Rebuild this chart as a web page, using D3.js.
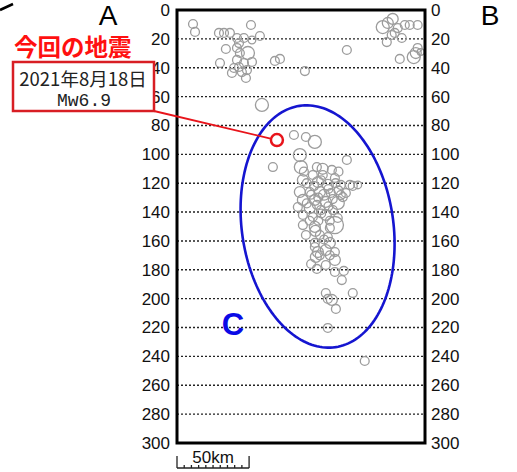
<!DOCTYPE html>
<html lang="ja">

<head>
    <meta charset="UTF-8">
    <title>Depth section</title>
    <script src="https://cdn.jsdelivr.net/npm/d3@7"></script>

    <style type="text/css">
        body { margin: 0; background: #fff; }

        .quake { fill: none; stroke: #9c9c9c; stroke-width: 1.3; }

        .grid { stroke: #222; stroke-width: 1.4; stroke-dasharray: 2,2; }

        .depthAxis text { font-family: "Liberation Sans", Arial, sans-serif; font-size: 17px; fill: #111; }
    </style>
</head>

<body>

    <svg id="section"></svg>

    <script>

        // Sizes of the SVG
        var width = 517;
        var height = 472;

        // Depth ticks (km)
        var depthTicks = [0, 20, 40, 60, 80, 100, 120, 140, 160, 180, 200, 220, 240, 260, 280, 300];

        // Hypocentres: [distance along section km, depth km, magnitude]
        var quakes = [
            [11.1, 9.7, 2.5], [12.5, 15.2, 2.5], [29.1, 15.9, 2.5], [32.6, 15.9, 2.5], [36.7, 15.9, 2.5],
            [51.3, 10.4, 2.5], [57.5, 18.0, 2.5], [46.4, 19.4, 2.5], [41.6, 19.4, 2.5], [52.0, 20.8, 2.2],
            [43.0, 22.9, 2.5], [33.9, 27.0, 2.5], [41.6, 26.3, 2.5], [49.2, 29.8, 3.5], [43.6, 29.8, 2.5],
            [29.8, 36.7, 2.5], [41.6, 34.6, 2.5], [46.4, 36.7, 2.5], [52.0, 36.0, 2.5], [39.5, 40.2, 2.5],
            [43.0, 39.5, 2.5], [48.5, 41.6, 2.5], [38.1, 43.6, 2.5], [45.0, 43.0, 2.5], [47.8, 47.1, 2.5],
            [67.9, 35.3, 2.5], [71.4, 33.9, 2.5], [58.9, 65.8, 3.5], [88.7, 42.3, 2.5], [117.8, 27.7, 2.5],
            [142.7, 11.8, 3.5], [149.6, 6.2, 3.0], [146.2, 9.0, 3.0], [153.1, 12.5, 2.5], [158.0, 10.4, 2.5],
            [151.0, 15.9, 2.5], [155.9, 19.4, 2.5], [145.5, 22.2, 2.5], [148.9, 17.3, 2.5], [166.9, 10.4, 2.5],
            [154.5, 33.9, 2.5], [165.6, 29.8, 3.0], [166.9, 26.3, 2.5], [169.0, 29.1, 2.0], [161.4, 10.4, 2.5],
            [164.2, 32.6, 3.5],
            [81.1, 86.6, 2.5], [89.4, 88.0, 2.5], [95.6, 91.4, 3.5], [85.2, 100.5, 3.5], [66.5, 108.8, 2.5],
            [117.8, 103.9, 2.5], [85.9, 108.8, 3.5], [97.0, 108.8, 2.5], [107.4, 110.8, 2.5],
            [94.2, 114.3, 2.5], [101.1, 114.3, 2.5], [109.5, 116.4, 2.5], [87.3, 117.8, 3.0], [97.7, 119.2, 3.0],
            [104.6, 121.2, 3.0], [113.6, 121.2, 2.5], [119.9, 121.2, 2.5], [125.4, 121.2, 2.2], [85.2, 126.1, 3.0],
            [92.1, 126.1, 2.5], [99.1, 126.1, 3.0], [106.7, 126.8, 2.5], [113.6, 128.2, 2.5], [117.1, 126.8, 2.5],
            [87.3, 131.6, 3.0], [95.6, 131.6, 3.0], [103.2, 133.0, 3.0], [111.5, 133.7, 3.5], [83.8, 136.5, 2.5],
            [92.1, 137.2, 3.0], [99.8, 138.6, 2.5], [108.1, 138.6, 2.5], [87.3, 142.0, 2.5], [94.2, 143.4, 2.5],
            [103.2, 142.0, 3.0], [111.5, 144.1, 2.5], [109.5, 149.0, 4.5], [87.3, 149.0, 2.5], [95.6, 150.3, 3.0],
            [106.0, 151.0, 2.5], [89.4, 155.9, 2.5], [99.1, 155.9, 2.5], [104.6, 157.3, 2.5], [95.6, 164.2, 2.5],
            [103.2, 166.3, 3.0], [96.3, 171.1, 3.0], [109.5, 173.2, 3.0], [103.2, 176.7, 2.5], [121.9, 121.9, 2.5],
            [115.0, 129.6, 2.5], [95.6, 161.4, 2.5], [106.0, 161.4, 3.0], [97.7, 167.7, 3.0],
            [109.5, 167.7, 2.5], [97.0, 179.4, 2.5], [115.7, 180.8, 2.5], [109.5, 181.5, 2.5], [114.3, 187.1, 2.5],
            [103.2, 196.1, 2.5], [121.9, 196.1, 2.5], [107.4, 200.9, 3.0], [104.6, 200.2, 2.5], [110.2, 207.1, 2.5],
            [104.6, 220.3, 2.5], [130.2, 243.2, 2.5],
            [90.0, 120.0, 2.5], [95.0, 122.0, 2.5], [100.0, 118.0, 2.5], [105.0, 124.0, 2.5], [110.0, 120.0, 2.5],
            [93.0, 128.0, 2.5], [98.0, 130.0, 2.5], [102.0, 128.0, 3.0], [108.0, 131.0, 2.5], [112.0, 125.0, 2.5],
            [90.0, 134.0, 2.5], [97.0, 135.0, 2.5], [105.0, 136.0, 2.5], [100.0, 141.0, 2.5], [92.0, 146.0, 2.5],
            [98.0, 146.0, 2.5], [106.0, 146.0, 2.5], [88.0, 112.0, 2.5], [101.0, 110.0, 3.0], [112.0, 112.0, 2.5],
            [96.0, 153.0, 3.0], [102.0, 159.0, 2.5], [99.0, 170.0, 2.5], [106.0, 170.0, 2.5], [93.0, 176.0, 2.5]
        ];

        // 2021-08-18 Mw6.9 event
        var mainShock = [69.3, 90.1];

        // Source region ellipse: centre, semi axes (km), tilt (deg)
        var ellipseCentre = [97.5, 150];
        var ellipseAxes = [52.5, 84.5];
        var ellipseTilt = -8.5;

        var svg = d3.select("#section")
            .attr("width", width)
            .attr("height", height);

        var x = d3.scaleLinear().domain([0, 172]).range([177, 425]);
        var y = d3.scaleLinear().domain([0, 300]).range([10, 443]);
        var r = d3.scaleLinear().domain([2, 5]).range([3.4, 9.6]);

        // dotted depth lines
        svg.selectAll(".grid")
            .data(depthTicks.slice(1, -1))
            .enter()
            .append("line")
            .attr("class", "grid")
            .attr("x1", x(0))
            .attr("x2", x(172))
            .attr("y1", function (d) { return y(d); })
            .attr("y2", function (d) { return y(d); });

        // depth labels on both sides
        svg.append("g")
            .attr("class", "depthAxis")
            .attr("transform", "translate(" + (x(0) - 1) + ",0)")
            .call(d3.axisLeft(y).tickValues(depthTicks).tickSize(0).tickPadding(6))
            .call(function (g) { g.select(".domain").remove(); });

        svg.append("g")
            .attr("class", "depthAxis")
            .attr("transform", "translate(" + (x(172) + 1) + ",0)")
            .call(d3.axisRight(y).tickValues(depthTicks).tickSize(0).tickPadding(5))
            .call(function (g) { g.select(".domain").remove(); });

        // hypocentres
        svg.selectAll(".quake")
            .data(quakes)
            .enter()
            .append("circle")
            .attr("class", "quake")
            .attr("cx", function (d) { return x(d[0]); })
            .attr("cy", function (d) { return y(d[1]); })
            .attr("r", function (d) { return r(d[2]); });

        // ellipse
        var tilt = ellipseTilt * Math.PI / 180;
        var ellPts = d3.range(0, 2 * Math.PI + 0.01, Math.PI / 90).map(function (t) {
            var ex = ellipseAxes[0] * Math.cos(t);
            var ey = ellipseAxes[1] * Math.sin(t);
            return [
                ellipseCentre[0] + ex * Math.cos(tilt) - ey * Math.sin(tilt),
                ellipseCentre[1] + ex * Math.sin(tilt) + ey * Math.cos(tilt)
            ];
        });
        svg.append("path")
            .attr("d", d3.line()
                .x(function (d) { return x(d[0]); })
                .y(function (d) { return y(d[1]); })(ellPts))
            .attr("fill", "none")
            .attr("stroke", "#1515d0")
            .attr("stroke-width", 2.6);

        // frame
        svg.append("rect")
            .attr("x", x(0))
            .attr("y", y(0))
            .attr("width", x(172) - x(0))
            .attr("height", y(300) - y(0))
            .attr("fill", "none")
            .attr("stroke", "#000")
            .attr("stroke-width", 3);

        // main shock + callout
        var msx = x(mainShock[0]), msy = y(mainShock[1]);
        var ang = Math.atan2(msy - 111, msx - 154);
        svg.append("line")
            .attr("x1", 154).attr("y1", 111)
            .attr("x2", msx - 6.5 * Math.cos(ang))
            .attr("y2", msy - 6.5 * Math.sin(ang))
            .attr("stroke", "#e8141b").attr("stroke-width", 1.8);
        svg.append("circle")
            .attr("cx", msx).attr("cy", msy).attr("r", 6)
            .attr("fill", "#fff").attr("stroke", "#e8141b").attr("stroke-width", 2.5);

        svg.append("rect")
            .attr("x", 13).attr("y", 62).attr("width", 141).attr("height", 49)
            .attr("fill", "#fff").attr("stroke", "#d81e24").attr("stroke-width", 2.5);
        svg.append("text")
            .attr("x", 83).attr("y", 86)
            .attr("text-anchor", "middle")
            .style("font-family", "'Noto Sans CJK JP', sans-serif")
            .style("font-size", "18.5px")
            .attr("fill", "#222")
            .text("2021年8月18日");
        svg.append("text")
            .attr("x", 84).attr("y", 106)
            .attr("text-anchor", "middle")
            .style("font-family", "'Liberation Mono', 'DejaVu Sans Mono', monospace")
            .style("font-size", "18px")
            .attr("fill", "#222")
            .text("Mw6.9");
        svg.append("text")
            .attr("x", 14).attr("y", 56)
            .style("font-family", "'Noto Sans CJK JP', sans-serif")
            .style("font-size", "23.5px")
            .style("font-weight", "bold")
            .attr("fill", "#ff1010")
            .text("今回の地震");

        // panel letters
        var letterFont = "'Liberation Sans', Arial, sans-serif";
        svg.append("text").attr("x", 108).attr("y", 25).attr("text-anchor", "middle")
            .style("font-family", letterFont).style("font-size", "28px").attr("fill", "#000").text("A");
        svg.append("text").attr("x", 490).attr("y", 25).attr("text-anchor", "middle")
            .style("font-family", letterFont).style("font-size", "28px").attr("fill", "#000").text("B");
        svg.append("text").attr("x", 233).attr("y", 335).attr("text-anchor", "middle")
            .style("font-family", letterFont).style("font-size", "31px").style("font-weight", "bold")
            .attr("fill", "#0a0ae6").text("C");

        // stray mark top-left
        svg.append("line")
            .attr("x1", 0).attr("y1", 10).attr("x2", 13).attr("y2", 4)
            .attr("stroke", "#000").attr("stroke-width", 2.5);

        // 50 km scale bar
        var bar = svg.append("g").attr("stroke", "#222").attr("stroke-width", 1.3);
        var barY = 468;
        bar.append("line").attr("x1", x(0)).attr("x2", x(50)).attr("y1", barY).attr("y2", barY);
        bar.selectAll(".minor")
            .data(d3.range(0, 51, 5))
            .enter()
            .append("line")
            .attr("x1", function (d) { return x(d); })
            .attr("x2", function (d) { return x(d); })
            .attr("y1", barY)
            .attr("y2", function (d) { return (d === 0 || d === 50) ? barY - 12 : barY - 3; });
        svg.append("text")
            .attr("x", x(25)).attr("y", 463).attr("text-anchor", "middle")
            .style("font-family", letterFont).style("font-size", "17px").attr("fill", "#111")
            .text("50km");

    </script>

</body>

</html>
